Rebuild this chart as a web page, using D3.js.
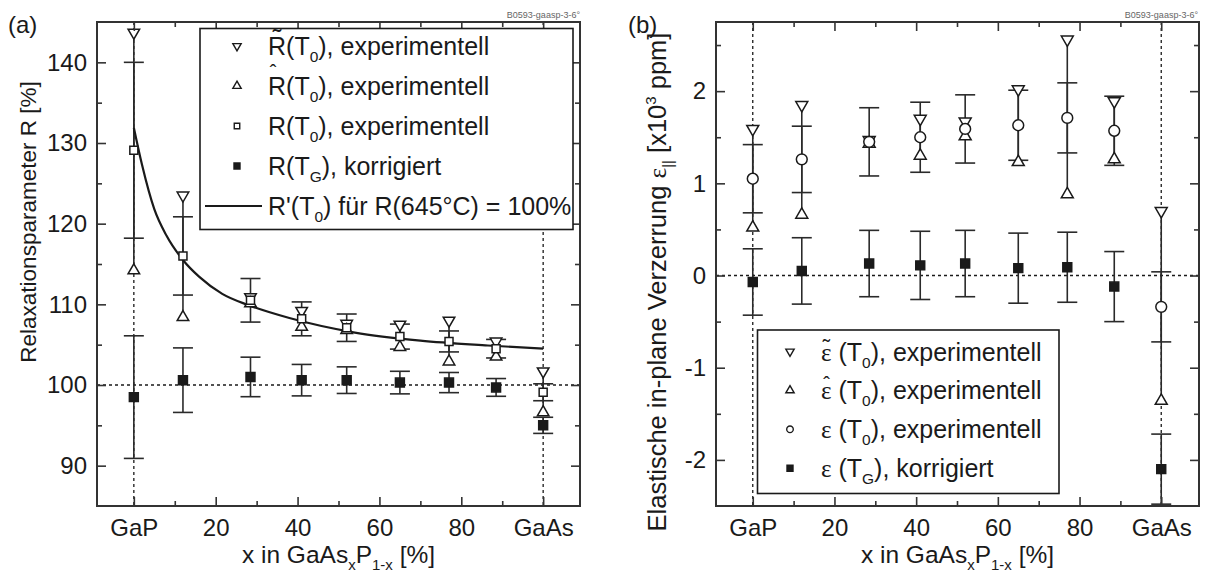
<!DOCTYPE html>
<html>
<head>
<meta charset="utf-8">
<script src="https://cdn.jsdelivr.net/npm/d3@7"></script>
<style>
body { margin: 0; background: #fff; }
svg text { font-family: "Liberation Sans", Arial, sans-serif; fill: #1a1a1a; }
</style>
</head>
<body>
<script>
var svgWidth = 1205;
var svgHeight = 575;

// sample compositions, x in GaAs_x P_1-x [%]
var samples = [0, 12, 28.5, 41, 52, 65, 77, 88.5, 100];
var xTicks = [0, 20, 40, 60, 80, 100];
var xMinor = [10, 30, 50, 70, 90];

// panel (a): relaxation parameter R [%]
var rTilde = [143.7, 123.5, 110.9, 109.2, 107.6, 107.5, 108.0, 105.4, 101.7];
var rHat = [114.2, 108.4, 110.1, 107.2, 106.8, 104.7, 102.9, 103.5, 96.6];
var rT0 = [129.1, 116.0, 110.5, 108.2, 107.1, 106.0, 105.4, 104.5, 99.1];
var rT0Err = [10.9, 4.85, 2.7, 2.1, 1.7, 1.55, 1.3, 1.15, 1.05];
var rTG = [98.5, 100.6, 101.0, 100.6, 100.6, 100.3, 100.3, 99.7, 95.0];
var rTGErr = [7.6, 4.0, 2.45, 1.95, 1.65, 1.4, 1.25, 1.1, 1.0];
// R'(T0) curve
var curveX = [0, 2, 5, 8, 12, 16, 21.6, 28, 38, 54, 70, 86.5, 100];
var curveY = [131.9, 127.3, 121.8, 118.5, 115.5, 113.4, 111.3, 109.9, 108.3, 106.5, 105.5, 104.9, 104.5];
var yTicksA = [90, 100, 110, 120, 130, 140];
var yMinorA = [95, 105, 115, 125, 135];

// panel (b): in-plane strain [x10^3 ppm]
var epsTilde = [1.59, 1.85, 1.47, 1.70, 1.67, 2.02, 2.56, 1.89, 0.70];
var epsHat = [0.52, 0.66, 1.43, 1.30, 1.51, 1.23, 0.88, 1.26, -1.36];
var epsT0 = [1.05, 1.26, 1.45, 1.50, 1.59, 1.63, 1.71, 1.57, -0.34];
var epsT0Err = [0.37, 0.36, 0.37, 0.38, 0.37, 0.38, 0.38, 0.375, 0.38];
var epsTG = [-0.07, 0.05, 0.13, 0.11, 0.13, 0.08, 0.09, -0.12, -2.10];
var epsTGErr = [0.36, 0.36, 0.36, 0.37, 0.36, 0.38, 0.38, 0.38, 0.38];
var yTicksB = [-2, -1, 0, 1, 2];
var yMinorB = [-1.5, -0.5, 0.5, 1.5, 2.5];

var W = 483, H = 484;
var ink = "#1a1a1a";

var svg = d3.select("body").append("svg")
    .attr("width", svgWidth)
    .attr("height", svgHeight);

var fmtX = function (d) {
    if (d == 0) return "GaP";
    if (d == 100) return "GaAs";
    return d;
};

function axes(g, x, y, yMajor, yMinor) {
    var parts = [
        [d3.axisBottom(x).tickValues(xTicks).tickSize(-9).tickPadding(13).tickFormat(fmtX), "translate(0," + H + ")"],
        [d3.axisBottom(x).tickValues(xMinor).tickSize(-5).tickFormat(""), "translate(0," + H + ")"],
        [d3.axisTop(x).tickValues(xTicks).tickSize(-9).tickFormat(""), null],
        [d3.axisTop(x).tickValues(xMinor).tickSize(-5).tickFormat(""), null],
        [d3.axisLeft(y).tickValues(yMajor).tickSize(-9).tickPadding(10).tickFormat(function (d) { return String(d); }), null],
        [d3.axisLeft(y).tickValues(yMinor).tickSize(-5).tickFormat(""), null],
        [d3.axisRight(y).tickValues(yMajor).tickSize(-9).tickFormat(""), "translate(" + W + ",0)"],
        [d3.axisRight(y).tickValues(yMinor).tickSize(-5).tickFormat(""), "translate(" + W + ",0)"]
    ];
    parts.forEach(function (p) {
        var a = g.append("g").call(p[0]);
        if (p[1]) a.attr("transform", p[1]);
        a.select(".domain").remove();
        a.selectAll("line").attr("stroke", "#333").attr("stroke-width", 1.6);
        a.selectAll("text").attr("font-size", 24).attr("fill", ink)
            .attr("font-family", "Liberation Sans, Arial, sans-serif");
    });
    g.append("rect").attr("width", W).attr("height", H)
        .attr("fill", "none").attr("stroke", "#333").attr("stroke-width", 2);
}

function refLines(g, x, y, yRef) {
    var dots = "3,3";
    g.append("line").attr("x1", 0).attr("x2", W).attr("y1", y(yRef)).attr("y2", y(yRef))
        .attr("stroke", ink).attr("stroke-width", 1.5).attr("stroke-dasharray", dots);
    [0, 100].forEach(function (v) {
        g.append("line").attr("x1", x(v)).attr("x2", x(v)).attr("y1", 0).attr("y2", H)
            .attr("stroke", ink).attr("stroke-width", 1.3).attr("stroke-dasharray", dots);
    });
}

function errorBars(g, x, y, vals, errs) {
    var eb = g.append("g").attr("stroke", "#2a2a2a").attr("stroke-width", 1.6);
    vals.forEach(function (v, i) {
        var cx = x(samples[i]);
        eb.append("line").attr("x1", cx).attr("x2", cx).attr("y1", y(v - errs[i])).attr("y2", y(v + errs[i]));
        [v - errs[i], v + errs[i]].forEach(function (e) {
            eb.append("line").attr("x1", cx - 10).attr("x2", cx + 10).attr("y1", y(e)).attr("y2", y(e));
        });
    });
}

function rangeLines(g, x, y, hi, lo) {
    g.append("g").selectAll("line").data(samples).enter().append("line")
        .attr("x1", function (d) { return x(d); })
        .attr("x2", function (d) { return x(d); })
        .attr("y1", function (d, i) { return y(hi[i]); })
        .attr("y2", function (d, i) { return y(lo[i]); })
        .attr("stroke", "#2a2a2a").attr("stroke-width", 1.6);
}

function markers(g, x, y, vals, type, size, filled, rotate) {
    var sym = d3.symbol().type(type).size(size);
    g.append("g").selectAll("path").data(vals).enter().append("path")
        .attr("d", sym)
        .attr("transform", function (d, i) {
            return "translate(" + x(samples[i]) + "," + y(d) + ")" + (rotate ? " rotate(180)" : "");
        })
        .attr("fill", filled ? ink : "#fff")
        .attr("stroke", ink).attr("stroke-width", 1.5);
}

function legendSymbol(g, cx, cy, type, size, filled, rotate) {
    g.append("path").attr("d", d3.symbol().type(type).size(size)())
        .attr("transform", "translate(" + cx + "," + cy + ")" + (rotate ? " rotate(180)" : ""))
        .attr("fill", filled ? ink : "#fff").attr("stroke", ink).attr("stroke-width", 1.4);
}

// parts: [text, kind] kind = "sub", "sup", "serif" or undefined
function richText(t, parts, subSize) {
    var shift = 0;
    parts.forEach(function (p) {
        var ts = t.append("tspan").text(p[0]);
        var want = p[1] == "sub" ? 7 : (p[1] == "sup" ? -10 : 0);
        ts.attr("dy", want - shift);
        shift = want;
        if (p[1] == "sub" || p[1] == "sup") ts.attr("font-size", subSize);
        if (p[1] == "serif") ts.attr("font-family", "Liberation Serif, serif");
    });
}

function xTitle(g) {
    var t = g.append("text").attr("x", W / 2).attr("y", H + 57).attr("text-anchor", "middle")
        .attr("font-size", 24.5);
    richText(t, [["x in GaAs"], ["x", "sub"], ["P"], ["1-x", "sub"], [" [%]"]], 15);
}

// ---------- panel (a) ----------
var xA = d3.scaleLinear().domain([-9, 109]).range([0, W]);
var yA = d3.scaleLinear().domain([85, 145]).range([H, 0]);
var gA = svg.append("g").attr("transform", "translate(97,22)");

refLines(gA, xA, yA, 100);
rangeLines(gA, xA, yA, rTilde, rHat);
errorBars(gA, xA, yA, rT0, rT0Err);
errorBars(gA, xA, yA, rTG, rTGErr);

var curve = d3.line().curve(d3.curveMonotoneX)
    .x(function (d) { return xA(d[0]); })
    .y(function (d) { return yA(d[1]); });
gA.append("path").datum(d3.zip(curveX, curveY)).attr("d", curve)
    .attr("fill", "none").attr("stroke", ink).attr("stroke-width", 2.2);

markers(gA, xA, yA, rTilde, d3.symbolTriangle, 58, false, true);
markers(gA, xA, yA, rHat, d3.symbolTriangle, 58, false, false);
markers(gA, xA, yA, rT0, d3.symbolSquare, 64, false, false);
markers(gA, xA, yA, rTG, d3.symbolSquare, 80, true, false);
axes(gA, xA, yA, yTicksA, yMinorA);
xTitle(gA);

// legend (a)
var lgA = svg.append("g");
lgA.append("rect").attr("x", 200).attr("y", 28.5).attr("width", 373).attr("height", 201)
    .attr("fill", "#fff").attr("stroke", ink).attr("stroke-width", 1.6);
var legA = [
    ["~", [["R(T"], ["0", "sub"], ["), experimentell"]], d3.symbolTriangle, 30, false, true],
    ["^", [["R(T"], ["0", "sub"], ["), experimentell"]], d3.symbolTriangle, 30, false, false],
    ["", [["R(T"], ["0", "sub"], ["), experimentell"]], d3.symbolSquare, 30, false, false],
    ["", [["R(T"], ["G", "sub"], ["), korrigiert"]], d3.symbolSquare, 36, true, false]
];
legA.forEach(function (e, i) {
    var cy = 46 + i * 40;
    legendSymbol(lgA, 237, cy, e[2], e[3], e[4], e[5]);
    var t = lgA.append("text").attr("x", 268).attr("y", cy + 9).attr("font-size", 25);
    richText(t, e[1], 15.5);
    if (e[0] == "~") {
        lgA.append("text").attr("x", 277).attr("y", cy + 1).attr("text-anchor", "middle")
            .attr("font-size", 26).text("\u02dc");
    }
    if (e[0] == "^") {
        lgA.append("text").attr("x", 273).attr("y", cy - 7.5).attr("text-anchor", "middle")
            .attr("font-size", 20).text("\u02c6");
    }
});
lgA.append("line").attr("x1", 205).attr("x2", 262).attr("y1", 206).attr("y2", 206)
    .attr("stroke", ink).attr("stroke-width", 2.2);
var tA5 = lgA.append("text").attr("x", 268).attr("y", 215).attr("font-size", 25);
richText(tA5, [["R'(T"], ["0", "sub"], [") f\u00fcr R(645\u00b0C) = 100%"]], 15.5);

// ---------- panel (b) ----------
var xB = d3.scaleLinear().domain([-9, 109]).range([0, W - 1]);
var yB = d3.scaleLinear().domain([-2.5, 2.75]).range([H, 0]);
var gB = svg.append("g").attr("transform", "translate(716,22)");

refLines(gB, xB, yB, 0);
rangeLines(gB, xB, yB, epsTilde, epsHat);
errorBars(gB, xB, yB, epsT0, epsT0Err);
errorBars(gB, xB, yB, epsTG, epsTGErr);
markers(gB, xB, yB, epsTilde, d3.symbolTriangle, 62, false, true);
markers(gB, xB, yB, epsHat, d3.symbolTriangle, 62, false, false);
markers(gB, xB, yB, epsT0, d3.symbolCircle, 92, false, false);
markers(gB, xB, yB, epsTG, d3.symbolSquare, 80, true, false);
axes(gB, xB, yB, yTicksB, yMinorB);
xTitle(gB);

// legend (b)
var lgB = svg.append("g");
lgB.append("rect").attr("x", 757.5).attr("y", 330).attr("width", 301.5).attr("height", 163.5)
    .attr("fill", "#fff").attr("stroke", ink).attr("stroke-width", 1.6);
var legB = [
    ["~", [["\u03b5", "serif"], [" (T"], ["0", "sub"], ["), experimentell"]], d3.symbolTriangle, 30, false, true],
    ["^", [["\u03b5", "serif"], [" (T"], ["0", "sub"], ["), experimentell"]], d3.symbolTriangle, 30, false, false],
    ["", [["\u03b5", "serif"], [" (T"], ["0", "sub"], ["), experimentell"]], d3.symbolCircle, 34, false, false],
    ["", [["\u03b5", "serif"], [" (T"], ["G", "sub"], ["), korrigiert"]], d3.symbolSquare, 36, true, false]
];
legB.forEach(function (e, i) {
    var cy = 351.5 + i * 38.9;
    legendSymbol(lgB, 790, cy, e[2], e[3], e[4], e[5]);
    var t = lgB.append("text").attr("x", 821).attr("y", cy + 9).attr("font-size", 25);
    richText(t, e[1], 15.5);
    if (e[0] == "~") {
        lgB.append("text").attr("x", 826.5).attr("y", cy + 3).attr("text-anchor", "middle")
            .attr("font-family", "Liberation Serif, serif").attr("font-size", 22).text("\u02dc");
    }
    if (e[0] == "^") {
        lgB.append("text").attr("x", 826.5).attr("y", cy + 1).attr("text-anchor", "middle")
            .attr("font-family", "Liberation Serif, serif").attr("font-size", 20).text("\u02c6");
    }
});

// ---------- titles and labels ----------
svg.append("text").attr("transform", "translate(36,222) rotate(-90)")
    .attr("text-anchor", "middle").attr("font-size", 22.5)
    .text("Relaxationsparameter R [%]");

var tB = svg.append("text").attr("transform", "translate(666,282) rotate(-90)")
    .attr("text-anchor", "middle").attr("font-size", 25.5);
richText(tB, [["Elastische in-plane Verzerrung "], ["\u03b5", "serif"], ["||", "sub"], [" [x10"], ["3", "sup"], [" ppm]"]], 15);

svg.append("text").attr("x", 8).attr("y", 33).attr("font-size", 24).text("(a)");
svg.append("text").attr("x", 628).attr("y", 33).attr("font-size", 24).text("(b)");

[580, 1198].forEach(function (xr) {
    svg.append("text").attr("x", xr).attr("y", 18).attr("text-anchor", "end")
        .attr("font-size", 9).style("fill", "#666").text("B0593-gaasp-3-6\u00b0");
});
</script>
</body>
</html>
